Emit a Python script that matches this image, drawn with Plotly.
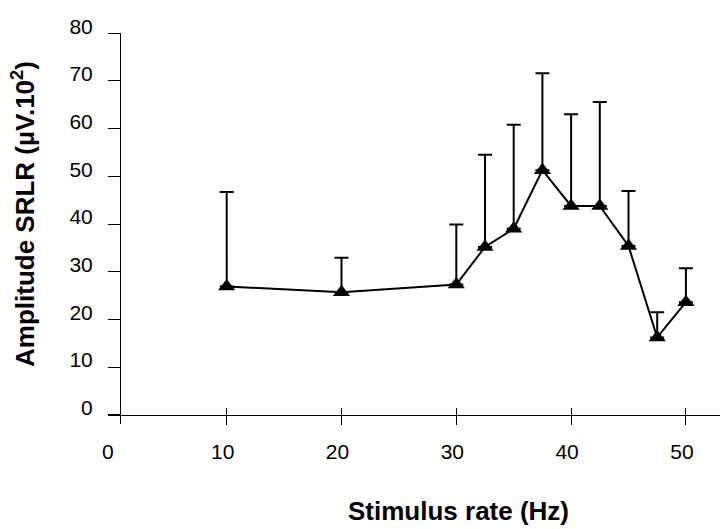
import plotly.graph_objects as go

# Data
rates = [10, 20, 30, 32.5, 35, 37.5, 40, 42.5, 45, 47.5, 50]
amplitude = [26.9, 25.7, 27.3, 35.2, 39.0, 51.3, 43.8, 43.8, 35.4, 16.2, 23.6]
sd_plus = [19.8, 7.2, 12.6, 19.3, 21.8, 20.3, 19.2, 21.8, 11.5, 5.3, 7.1]

x_tick_vals = [0, 10, 20, 30, 40, 50]
x_tick_text = ["0", "10", "20", "30", "40", "50"]
x_mark_vals = [10, 20, 30, 40, 50]
y_tick_vals = [0, 10, 20, 30, 40, 50, 60, 70, 80]
y_tick_text = ["0", "10", "20", "30", "40", "50", "60", "70", "80"]

FONT = "Arial, Liberation Sans, Helvetica, sans-serif"
W, H = 720, 529

fig = go.Figure()
fig.add_trace(go.Scatter(
    x=rates, y=amplitude, mode="lines+markers",
    line=dict(color="black", width=2),
    marker=dict(symbol="triangle-up", size=15, color="black"),
    error_y=dict(type="data", symmetric=False, array=sd_plus,
                 arrayminus=[0] * len(sd_plus),
                 color="black", thickness=2, width=7),
    showlegend=False, hoverinfo="x+y",
))
# invisible helper traces so the overlay tick axes get drawn
fig.add_trace(go.Scatter(x=[rates[0]], y=[amplitude[0]], xaxis="x2",
                         mode="markers", marker=dict(opacity=0),
                         showlegend=False, hoverinfo="skip"))
fig.add_trace(go.Scatter(x=[rates[0]], y=[amplitude[0]], xaxis="x3",
                         mode="markers", marker=dict(opacity=0),
                         showlegend=False, hoverinfo="skip"))

x_left_px = 108
y_axis_px = 120
x0_py = 414.7
y_bottom_py = 424
y_top_py = 33.3

xpos = (H - x0_py) / H
common_x = dict(domain=[x_left_px / W, 1.0], range=[-0.34, 52.97],
                anchor="free", position=xpos, showgrid=False, zeroline=False,
                automargin=False)

fig.update_layout(
    width=W, height=H,
    margin=dict(l=0, r=0, t=0, b=0, autoexpand=False),
    paper_bgcolor="white", plot_bgcolor="white",
    font=dict(family=FONT, color="black", size=21),
    xaxis=dict(**common_x, tickmode="array", tickvals=x_tick_vals,
               ticktext=x_tick_text, ticks="", showline=True,
               linecolor="black", linewidth=1,
               ticklabelstandoff=18, ticklabelshift=-4,
               tickfont=dict(family=FONT, size=21, color="black")),
    xaxis2=dict(**common_x, overlaying="x", matches="x", tickmode="array",
                tickvals=x_mark_vals, ticks="outside", ticklen=9,
                tickwidth=1, tickcolor="black", showticklabels=False,
                showline=False),
    xaxis3=dict(**common_x, overlaying="x", matches="x", tickmode="array",
                tickvals=x_mark_vals, ticks="inside", ticklen=7,
                tickwidth=1, tickcolor="black", showticklabels=False,
                showline=False),
    yaxis=dict(domain=[(H - y_bottom_py) / H, (H - y_top_py) / H],
               range=[(x0_py - y_bottom_py) / 4.7675, 80],
               anchor="free", position=y_axis_px / W, automargin=False,
               tickmode="array", tickvals=y_tick_vals, ticktext=y_tick_text,
               ticks="outside", ticklen=12, tickwidth=1, tickcolor="black",
               showline=True, linecolor="black", linewidth=1,
               showgrid=False, zeroline=False,
               ticklabelstandoff=11, ticklabelshift=-7,
               tickfont=dict(family=FONT, size=21, color="black")),
    annotations=[
        dict(text="<b>Stimulus rate (Hz)</b>", xref="paper", yref="paper",
             x=459 / W, y=(H - 511) / H, xanchor="center", yanchor="middle",
             showarrow=False,
             font=dict(family=FONT, size=26, color="black")),
        dict(text="<b>Amplitude SRLR (µV.10<sup>2</sup>)</b>", xref="paper",
             yref="paper", x=23 / W, y=(H - 214) / H, xanchor="center",
             yanchor="middle", showarrow=False,
             textangle=-90, font=dict(family=FONT, size=26, color="black")),
    ],
)

fig.write_html("out.html",
               config={"displayModeBar": False},
               post_script="document.body.style.margin='0';"
                           "document.body.style.padding='0';")
